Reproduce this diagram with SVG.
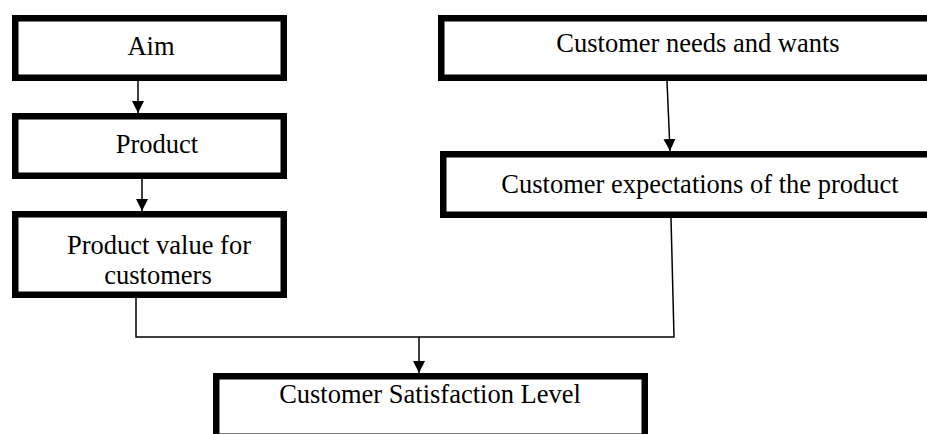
<svg xmlns="http://www.w3.org/2000/svg" width="927" height="434" viewBox="0 0 927 434">
<style>
.box{fill:#fff;stroke:#000;stroke-width:6.5}
.lbl{font-family:"Liberation Serif","Times New Roman",serif;font-size:26.5px;fill:#000;text-anchor:middle}
.con{fill:none;stroke:#000;stroke-width:1.5}
</style>
<defs>
<marker id="ah" markerUnits="userSpaceOnUse" markerWidth="14" markerHeight="12" refX="12" refY="6" orient="auto">
<path d="M0,0 L12,6 L0,12 Z" fill="#000"/>
</marker>
</defs>
<rect width="927" height="434" fill="#fff"/>
<g id="aim">
<rect class="box" x="15.25" y="18.25" width="268.5" height="59.5"/>
<text class="lbl" x="151" y="55">Aim</text>
</g>
<g id="product">
<rect class="box" x="15.25" y="116.25" width="268.5" height="59.5"/>
<text class="lbl" x="157" y="153">Product</text>
</g>
<g id="product-value">
<rect class="box" x="15.25" y="214.25" width="268.5" height="80.5"/>
<text class="lbl" x="159" y="254">Product value for</text>
<text class="lbl" x="158" y="284">customers</text>
</g>
<g id="needs">
<rect class="box" x="441.25" y="18.25" width="500" height="59.5"/>
<text class="lbl" x="698" y="52">Customer needs and wants</text>
</g>
<g id="expectations">
<rect class="box" x="443.25" y="154.25" width="500" height="60.5"/>
<text class="lbl" x="700" y="193">Customer expectations of the product</text>
</g>
<g id="satisfaction">
<rect class="box" x="216.25" y="376.25" width="428.5" height="60.5"/>
<text class="lbl" x="430" y="403">Customer Satisfaction Level</text>
</g>
<g id="connectors">
<line class="con" x1="138" y1="81" x2="138" y2="113" marker-end="url(#ah)"/>
<line class="con" x1="142" y1="179" x2="142" y2="211" marker-end="url(#ah)"/>
<line class="con" x1="667" y1="81" x2="670" y2="151" marker-end="url(#ah)"/>
<polyline class="con" points="136,298 136,337 674,337 671,218"/>
<line class="con" x1="419" y1="337" x2="419" y2="373" marker-end="url(#ah)"/>
</g>
</svg>
